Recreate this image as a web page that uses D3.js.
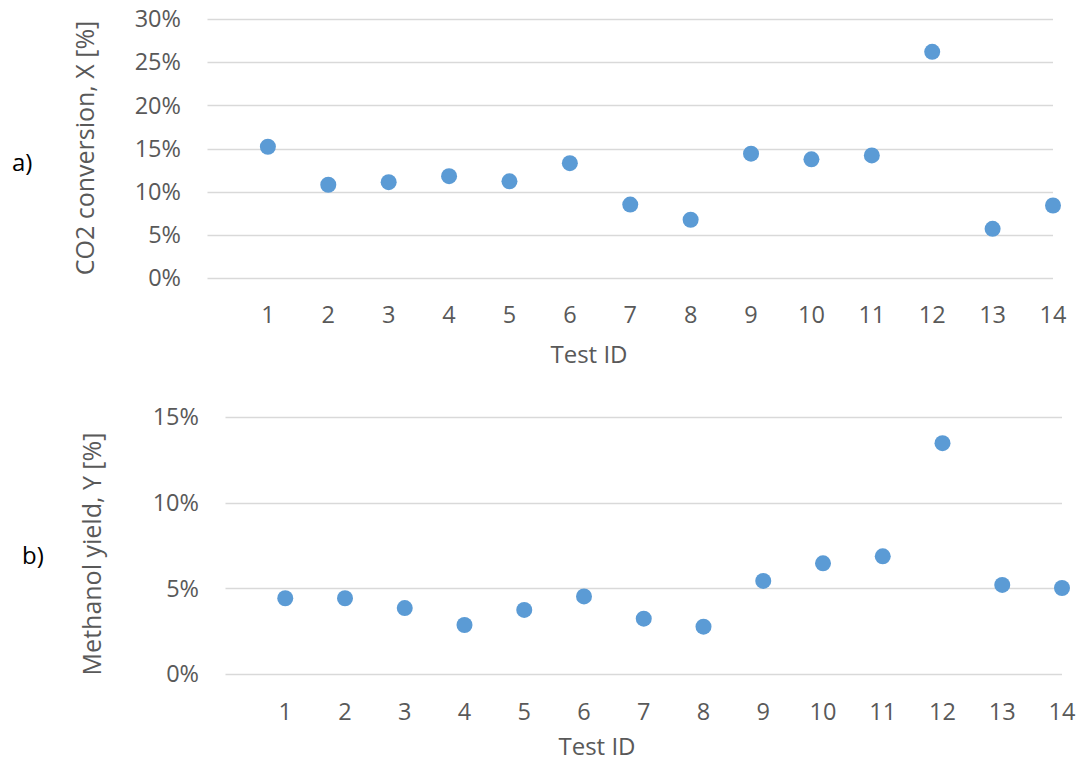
<!DOCTYPE html>
<html>
<head>
<meta charset="utf-8">
<script src="https://cdn.jsdelivr.net/npm/d3@7"></script>
<style>
  body { margin: 0; background: #fff; }
  text { font-family: "Open Sans", "Noto Sans", sans-serif; fill: #595959; }
  .grid line { stroke: #d9d9d9; stroke-width: 1.3; }
  .panel-label { fill: #000; }
</style>
</head>
<body>
<div id="chart"></div>
<script>
// Test IDs shared by both panels
const testIds = [1, 2, 3, 4, 5, 6, 7, 8, 9, 10, 11, 12, 13, 14];

// a) CO2 conversion, X [%]
const co2Conversion = [15.2, 10.8, 11.1, 11.8, 11.2, 13.3, 8.5, 6.75, 14.4, 13.75, 14.2, 26.2, 5.7, 8.4];
const co2Ticks = [0, 5, 10, 15, 20, 25, 30];

// b) Methanol yield, Y [%]
const methanolYield = [4.42, 4.42, 3.85, 2.86, 3.74, 4.53, 3.23, 2.76, 5.43, 6.46, 6.87, 13.47, 5.2, 5.02];
const yieldTicks = [0, 5, 10, 15];

const width = 1078, height = 760;

const svg = d3.select('#chart').append('svg')
  .attr('width', width)
  .attr('height', height);

function drawPanel(cfg) {
  const g = svg.append('g');

  const x = d3.scaleLinear().domain([0, 14]).range([cfg.left, cfg.right]);
  const y = d3.scaleLinear().domain([0, cfg.yMax]).range([cfg.bottom, cfg.top]);

  // horizontal gridlines
  g.append('g')
    .attr('class', 'grid')
    .selectAll('line')
    .data(cfg.yTicks)
    .join('line')
    .attr('x1', cfg.left)
    .attr('x2', cfg.right)
    .attr('y1', d => Math.round(y(d)) + 0.5)
    .attr('y2', d => Math.round(y(d)) + 0.5);

  // y tick labels
  g.selectAll('.y-label')
    .data(cfg.yTicks)
    .join('text')
    .attr('class', 'y-label')
    .attr('x', cfg.yLabelX)
    .attr('y', d => y(d))
    .attr('dy', '0.35em')
    .attr('text-anchor', 'end')
    .style('font-size', '23.5px')
    .text(d => d + '%');

  // x tick labels
  g.selectAll('.x-label')
    .data(testIds)
    .join('text')
    .attr('class', 'x-label')
    .attr('x', d => x(d))
    .attr('y', cfg.xLabelY)
    .attr('dy', '0.35em')
    .attr('text-anchor', 'middle')
    .style('font-size', '23.5px')
    .text(d => d);

  // axis titles
  g.append('text')
    .attr('transform', `translate(${cfg.yTitleX},${cfg.yTitleY}) rotate(-90)`)
    .attr('text-anchor', 'middle')
    .attr('dy', '0.35em')
    .style('font-size', '25px')
    .text(cfg.yTitle);

  g.append('text')
    .attr('x', cfg.xTitleX)
    .attr('y', cfg.xTitleY)
    .attr('text-anchor', 'middle')
    .attr('dy', '0.35em')
    .style('font-size', '24px')
    .text('Test ID');

  // panel letter
  g.append('text')
    .attr('class', 'panel-label')
    .attr('x', cfg.letterX)
    .attr('y', cfg.letterY)
    .attr('dy', '0.35em')
    .style('font-size', '24px')
    .text(cfg.letter);

  // points
  g.selectAll('circle')
    .data(cfg.values)
    .join('circle')
    .attr('cx', (d, i) => x(testIds[i]))
    .attr('cy', d => y(d))
    .attr('r', 8)
    .attr('fill', '#5b9bd5');
}

drawPanel({
  left: 207.5, right: 1053, top: 19, bottom: 278,
  yMax: 30, yTicks: co2Ticks, values: co2Conversion,
  yLabelX: 181, xLabelY: 315,
  yTitle: 'CO2 conversion, X [%]', yTitleX: 85, yTitleY: 148,
  xTitleX: 589, xTitleY: 355,
  letter: 'a)', letterX: 12, letterY: 163
});

drawPanel({
  left: 225.5, right: 1062, top: 417, bottom: 674,
  yMax: 15, yTicks: yieldTicks, values: methanolYield,
  yLabelX: 199, xLabelY: 712,
  yTitle: 'Methanol yield, Y [%]', yTitleX: 92, yTitleY: 554,
  xTitleX: 597, xTitleY: 747,
  letter: 'b)', letterX: 22, letterY: 556
});
</script>
</body>
</html>
